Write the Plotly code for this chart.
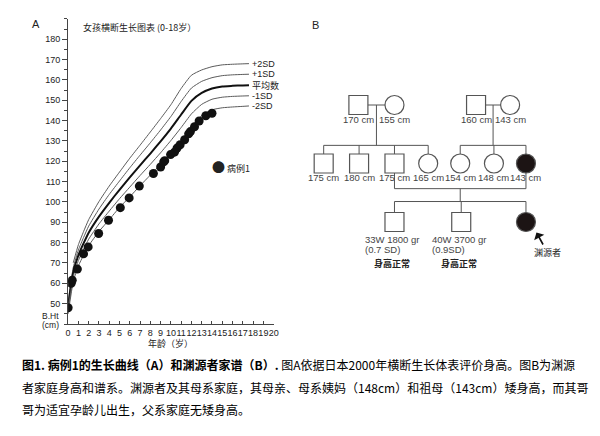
import plotly.graph_objects as go

# ---------------- Panel A: growth chart data ----------------
std_age = [0, 0.5, 1, 1.5, 2, 3, 4, 5, 6, 7, 8, 9, 10, 11, 12, 13, 14, 15, 16, 17, 17.6]
sd_plus2 = [None, 70.1, 79.0, 85.4, 91.3, 100.2, 107.8, 114.7, 121.5, 127.9, 134.4, 141.0, 147.8, 155.8, 162.3, 164.9, 166.5, 167.4, 167.7, 167.9, 168.0]
sd_plus1 = [51.0, 67.8, 76.4, 82.5, 88.1, 96.5, 103.7, 110.3, 116.8, 123.0, 129.1, 135.4, 142.0, 149.4, 156.0, 159.3, 161.1, 162.1, 162.5, 162.7, 162.8]
sd_mean = [49.0, 65.5, 73.8, 79.6, 84.9, 92.8, 99.6, 106.0, 112.1, 118.0, 123.8, 129.8, 136.1, 143.0, 149.7, 153.6, 155.8, 156.8, 157.1, 157.3, 157.4]
sd_minus1 = [47.0, 63.2, 71.2, 76.7, 81.7, 89.2, 95.5, 101.6, 107.3, 113.0, 118.5, 124.2, 130.2, 136.6, 143.3, 148.0, 150.5, 151.5, 151.9, 152.1, 152.2]
sd_minus2 = [45.0, 60.9, 68.6, 73.8, 78.5, 85.5, 91.3, 97.3, 102.5, 108.0, 113.2, 118.5, 124.0, 130.0, 137.0, 142.5, 145.3, 146.3, 146.7, 147.0, 147.2]
curve_names = ["+2SD", "+1SD", "平均数", "-1SD", "-2SD"]

case_age = [0, 0.3, 0.4, 0.9, 1.5, 1.95, 2.97, 3.93, 5.08, 5.94, 6.93, 8.3, 9.0, 9.3, 9.4,
            9.97, 10.35, 10.6, 10.9, 11.34, 11.73, 11.9, 12.3, 12.75, 13.4, 14.0]
case_ht = [48, 60, 61.5, 67, 74.5, 77.9, 84.5, 91, 97.2, 102, 107.8, 114, 117.2, 119.7, 120.3,
           123.3, 124.5, 126.5, 128.1, 130.6, 133.5, 134.6, 137, 139.8, 142.4, 143.6]
case_name = "病例1"

x_ticks = list(range(0, 21))
y_ticks = list(range(50, 190, 10))

# ---------------- Panel B: pedigree data ----------------
ped_label = ["170 cm", "155 cm", "160 cm", "143 cm",
             "175 cm", "180 cm", "175 cm", "165 cm", "154 cm", "148 cm", "143 cm",
             "", "", ""]
ped_sex = ["M", "F", "M", "F", "M", "M", "M", "F", "F", "F", "F", "M", "M", "F"]
ped_affected = [0, 0, 0, 0, 0, 0, 0, 0, 0, 0, 1, 0, 0, 1]
ped_slot = [1.03, 2.1, 4.52, 5.53, 0, 1.05, 2.1, 3.1, 4.05, 5.05, 6, 2.1, 4.08, 6]
ped_gen = [0, 0, 0, 0, 1, 1, 1, 1, 1, 1, 1, 2, 2, 2]
families = [(0, 1, [4, 5, 6, 7]), (2, 3, [8, 9, 10]), (6, 10, [11, 12, 13])]
birth_info = {11: ("33W 1800 gr", "(0.7 SD)", "身高正常"),
              12: ("40W 3700 gr", "(0.9SD)", "身高正常")}
proband = 13
proband_label = "渊源者"

caption_lines = [
    "<b>图1. 病例1的生长曲线（A）和渊源者家谱（B）.</b> 图A依据日本2000年横断生长体表评价身高。图B为渊源",
    "者家庭身高和谱系。渊源者及其母系家庭，其母亲、母系姨妈（148cm）和祖母（143cm）矮身高，而其哥",
    "哥为适宜孕龄儿出生，父系家庭无矮身高。",
]

W, H = 600, 436
LAT = "Liberation Sans, Arial, Noto Sans CJK SC, sans-serif"
CJK = "Noto Sans CJK SC, sans-serif"
INK = "#222222"

fig = go.Figure()

# growth curves
curves = [sd_plus2, sd_plus1, sd_mean, sd_minus1, sd_minus2]
for name, vals in zip(curve_names, curves):
    is_mean = name == "平均数"
    fig.add_trace(go.Scatter(
        x=std_age, y=vals, mode="lines", name=name,
        line=dict(color="#111111" if is_mean else "#5a5a5a", width=2 if is_mean else 1,
                  shape="spline", smoothing=0.5),
        xaxis="x", yaxis="y", hoverinfo="skip"))

fig.add_trace(go.Scatter(
    x=case_age, y=case_ht, mode="markers", name=case_name,
    marker=dict(color="#111111", size=9), xaxis="x", yaxis="y"))

annotations = []
for name, vals in zip(curve_names, curves):
    annotations.append(dict(x=std_age[-1], y=vals[-1], xref="x", yref="y", text=name,
                            showarrow=False, xanchor="left", xshift=1,
                            font=dict(size=9, family=LAT, color=INK)))

def px(xp, yp, text, size=9, anchor="left", family=LAT, color=INK):
    return dict(x=xp / W, y=1 - yp / H, xref="paper", yref="paper", text=text,
                showarrow=False, xanchor=anchor, yanchor="middle",
                font=dict(size=size, family=family, color=color))

annotations += [
    px(33.5, 24.5, "A", size=11, anchor="center"),
    px(79, 27, "女孩横断生长图表 (0-18岁）", size=9, family=CJK),
    px(170, 343, "年龄（岁）", size=9, anchor="center", family=CJK),
    px(59, 316, "B.Ht", size=8.5, anchor="right"),
    px(59, 325, "(cm)", size=8.5, anchor="right"),
    px(210, 166, '<span style="font-size:13px">●</span> ' + case_name, size=9, family=CJK),
    px(316.5, 25, "B", size=11, anchor="center"),
]

# pedigree lines (built from the family structure)
seg_x, seg_y = [], []

def seg(x0, y0, x1, y1):
    seg_x.extend([x0, x1, None])
    seg_y.extend([y0, y1, None])

n = len(ped_slot)
for fa, mo, kids in families:
    g = ped_gen[fa]
    xa, xb = ped_slot[fa], ped_slot[mo]
    lo, hi = min(xa, xb), max(xa, xb)
    between = any(ped_gen[i] == g and lo < ped_slot[i] < hi for i in range(n))
    if between:
        ym = g + 0.43
        seg(xa, g, xa, ym)
        seg(xb, g, xb, ym)
        seg(xa, ym, xb, ym)
        ysib = ym + 0.22
    else:
        ym = g
        seg(xa, g, xb, g)
        ysib = g + 0.69
    xm = (xa + xb) / 2
    seg(xm, ym, xm, ysib)
    kx = [ped_slot[k] for k in kids]
    seg(min(kx), ysib, max(kx), ysib)
    for k in kids:
        seg(ped_slot[k], ysib, ped_slot[k], ped_gen[k])

fig.add_trace(go.Scatter(x=seg_x, y=seg_y, mode="lines", line=dict(color="#555555", width=1),
                         xaxis="x2", yaxis="y2", hoverinfo="skip"))

fig.add_trace(go.Scatter(
    x=ped_slot, y=ped_gen, mode="markers", xaxis="x2", yaxis="y2",
    marker=dict(symbol=["square" if s == "M" else "circle" for s in ped_sex],
                size=19,
                color=["#1c1414" if a else "white" for a in ped_affected],
                line=dict(color="#555555", width=1.2)),
    hoverinfo="skip"))

for i in range(n):
    if ped_label[i]:
        annotations.append(dict(x=ped_slot[i], y=ped_gen[i], xref="x2", yref="y2",
                                text=ped_label[i], showarrow=False, yshift=-14,
                                font=dict(size=9.5, family=LAT, color="#444444")))
for i, (l1, l2, l3) in birth_info.items():
    common = dict(x=ped_slot[i], y=ped_gen[i], xref="x2", yref="y2", showarrow=False)
    annotations.append(dict(**common, text=l1, xanchor="left", xshift=-31, yshift=-17,
                            font=dict(size=9.5, family=LAT, color="#444444")))
    annotations.append(dict(**common, text=l2, xanchor="left", xshift=-31, yshift=-27.5,
                            font=dict(size=9.5, family=LAT, color="#444444")))
    annotations.append(dict(**common, text="<b>" + l3 + "</b>", xanchor="center", xshift=-2,
                            yshift=-41, font=dict(size=9, family=CJK, color=INK)))

annotations.append(dict(x=ped_slot[proband], y=ped_gen[proband], xref="x2", yref="y2",
                        text=proband_label, showarrow=True, arrowhead=1, arrowsize=1.2,
                        arrowwidth=1.6, arrowcolor="#111111", ax=11, ay=20,
                        xshift=10.5, yshift=-10.5,
                        font=dict(size=9, family=CJK, color=INK)))

# caption
cap_y = [364, 387, 409]
for t, yv in zip(caption_lines, cap_y):
    annotations.append(px(17, yv, t, size=12, family=CJK, color="#000000"))

fig.update_layout(
    width=W, height=H, margin=dict(l=0, r=0, t=0, b=0),
    paper_bgcolor="white", plot_bgcolor="white", showlegend=False,
    font=dict(family=LAT, size=9, color=INK),
    xaxis=dict(domain=[66 / W, 274.3 / W], range=[0, 20], tickvals=x_ticks, tickangle=0,
               ticks="inside", ticklen=3, tickcolor="#444444", showline=True,
               linecolor="#444444", linewidth=1, showgrid=False, zeroline=False,
               tickfont=dict(size=9, family=LAT, color=INK), anchor="y", fixedrange=True),
    yaxis=dict(domain=[1 - 324 / H, 1 - 18.9 / H], range=[40, 190], tickvals=y_ticks,
               ticks="outside", ticklen=5, tickcolor="#444444", showline=True,
               linecolor="#444444", linewidth=1, showgrid=False, zeroline=False,
               minor=dict(dtick=5, tick0=0, ticks="outside", ticklen=3, tickcolor="#444444"),
               tickfont=dict(size=9, family=LAT, color=INK), anchor="x", fixedrange=True),
    xaxis2=dict(domain=[0.5, 1.0], range=[-0.732, 8.048], visible=False, anchor="y2"),
    yaxis2=dict(domain=[1 - 300 / H, 1.0], range=[(300 - 105) / 58.5, -105 / 58.5],
                visible=False, anchor="x2"),
    annotations=annotations,
)

fig.write_html("out.html", config={"displayModeBar": False},
               post_script="document.body.style.margin='0';document.body.style.padding='0';")
